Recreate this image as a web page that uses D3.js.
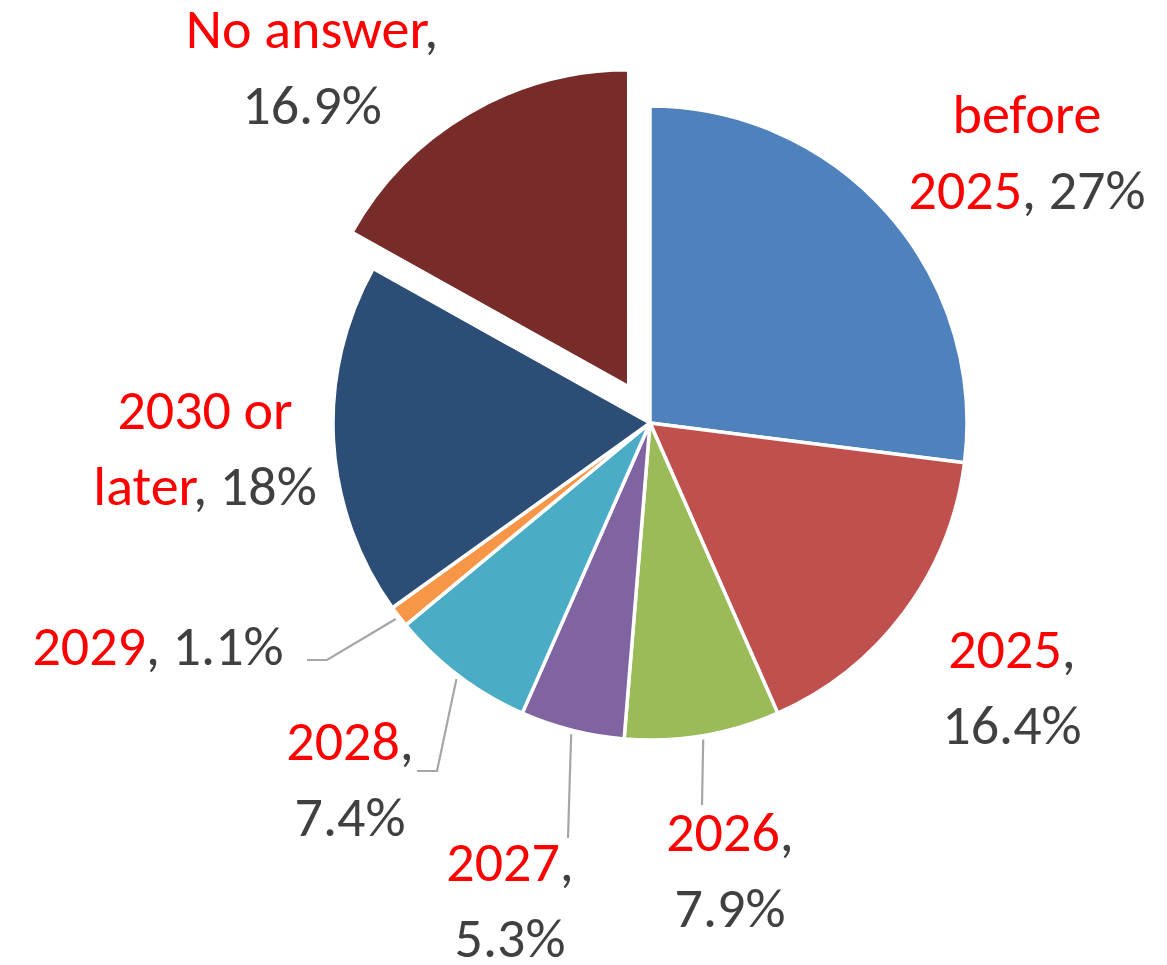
<!DOCTYPE html>
<html>
<head>
<meta charset="utf-8">
<script src="https://cdn.jsdelivr.net/npm/d3@7.9.0/dist/d3.min.js"></script>
<style>
  body { margin: 0; background: #fff; }
  text { font-family: Carlito, Lato, "Open Sans", sans-serif; }
</style>
</head>
<body>
<svg id="pie" width="1167" height="965"></svg>
<script>
// data
const categories = ['before 2025', '2025', '2026', '2027', '2028', '2029', '2030 or later', 'No answer'];
const shares = [27, 16.4, 7.9, 5.3, 7.4, 1.1, 18, 16.9];
const shareLabels = ['27%', '16.4%', '7.9%', '5.3%', '7.4%', '1.1%', '18%', '16.9%'];
const sliceColors = ['#4F81BD', '#C0504D', '#9BBB59', '#8064A2', '#4BACC6', '#F79646', '#2C4D75', '#772C2A'];

// layout
const cx = 650, cy = 423, radius = 317;
const explodeIndex = 7, explodeBy = 42;
const fontSize = 56, lineHeight = 76;
const red = '#FF0000', grey = '#404040', leaderColor = '#A6A6A6';

// how each label wraps: 'comma' = name, / share ; 'word' = name up to last word / last word, share ; 'one' = single line
const labelWrap = ['word', 'comma', 'comma', 'comma', 'comma', 'one', 'word', 'comma'];
// label anchor (centre x, first baseline) relative to the pie centre
const labelPos = [[377, -290], [362, 245], [80, 428], [-140, 458], [-300, 337], [-492, 242], [-445, 6], [-338, -375]];
// leader lines: the bend and end points relative to the pie centre (null = none)
const leaders = [null, null, [[52, 382]], [[-82, 415]], [[-213, 348], [-233, 348]], [[-323, 237], [-343, 237]], null, null];

const svg = d3.select('#pie');
const g = svg.append('g').attr('transform', `translate(${cx},${cy})`);

const pie = d3.pie().sort(null).value((d) => d);
const arcData = pie(shares);
const arcGen = d3.arc().innerRadius(0).outerRadius(radius);
const edgeArc = d3.arc().innerRadius(radius + 4).outerRadius(radius + 4);

arcData.forEach((d, i) => {
  let shift = [0, 0];
  if (i === explodeIndex) {
    const mid = (d.startAngle + d.endAngle) / 2;
    shift = [Math.sin(mid) * explodeBy, -Math.cos(mid) * explodeBy];
  }
  g.append('path')
    .attr('d', arcGen(d))
    .attr('transform', `translate(${shift[0]},${shift[1]})`)
    .attr('fill', sliceColors[i])
    .attr('stroke', '#fff')
    .attr('stroke-width', 3.5)
    .attr('stroke-linejoin', 'round');
});

// leader lines
arcData.forEach((d, i) => {
  if (!leaders[i]) return;
  const pts = [edgeArc.centroid(d), ...leaders[i]];
  g.append('path')
    .attr('d', d3.line()(pts))
    .attr('fill', 'none')
    .attr('stroke', leaderColor)
    .attr('stroke-width', 2.2);
});

// labels
categories.forEach((name, i) => {
  let lines;
  if (labelWrap[i] === 'comma') {
    lines = [[[name, red], [',', grey]], [[shareLabels[i], grey]]];
  } else if (labelWrap[i] === 'word') {
    const sp = name.lastIndexOf(' ');
    lines = [[[name.slice(0, sp), red]], [[name.slice(sp + 1), red], [', ' + shareLabels[i], grey]]];
  } else {
    lines = [[[name, red], [', ' + shareLabels[i], grey]]];
  }
  const t = g.append('text')
    .attr('text-anchor', 'middle')
    .attr('font-size', fontSize);
  lines.forEach((parts, li) => {
    parts.forEach((p, pi) => {
      const ts = t.append('tspan').text(p[0]).attr('fill', p[1]);
      if (pi === 0) ts.attr('x', labelPos[i][0]).attr('y', labelPos[i][1] + li * lineHeight);
    });
  });
});
</script>
</body>
</html>
